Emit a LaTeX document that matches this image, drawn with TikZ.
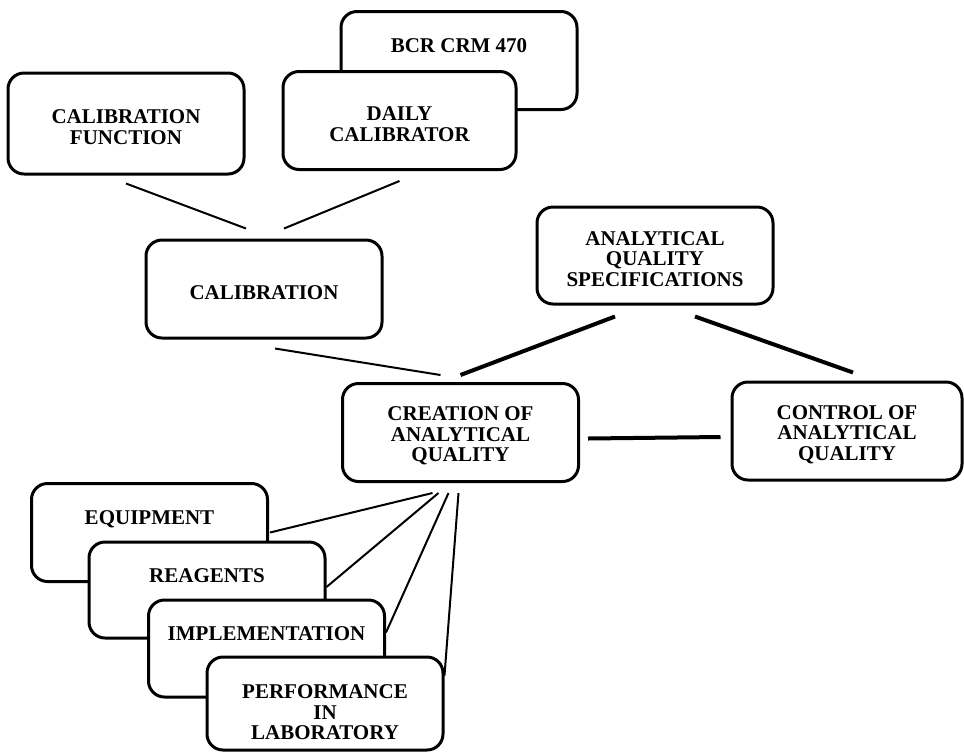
\documentclass[tikz,border=0pt]{standalone}
\usepackage{fontspec}
\setmainfont{Liberation Serif}
\begin{document}
\begin{tikzpicture}
  [x=0.5pt,y=-0.5pt,
 card/.style={
  rectangle,
 rounded corners=8pt,
  line width=1.5pt, % border
 draw=black,
 fill=white,
  align=center,
  minimum width=118pt,
    minimum height=49pt,
 inner sep=0pt,
 execute at begin node={\rule{0pt}{10.5pt}},
 font=\fontsize{10.5pt}{10.2pt}\selectfont\bfseries},
 toptext/.style={text height=7pt, text depth=15pt},
 lines2/.style={text height=20.6pt},
 lines3/.style={text height=30.8pt},
 link/.style={line width=1pt},
 thicklink/.style={line width=2pt}]
\useasboundingbox (0,0) rectangle (964,751);
\node (bcr) [card,toptext] at (459,60.5) {BCR CRM 470};
\node (daily) [card,lines2,minimum width=116.5pt] at (399.5,120.5) {DAILY\\CALIBRATOR};
\node (calfunc) [card,lines2,minimum height=50.5pt] at (126,123.5) {CALIBRATION\\FUNCTION};
\node (calib) [card] at (264,289) {CALIBRATION};
\node (spec) [card,lines3,minimum height=48.5pt] at (655,255.5) {ANALYTICAL\\QUALITY\\SPECIFICATIONS};
\node (creation) [card,lines3] at (460.5,432.5) {CREATION OF\\ANALYTICAL\\QUALITY};
\node (control) [card,lines3,minimum width=115pt] at (847,431) {CONTROL OF\\ANALYTICAL\\QUALITY};
\node (equip) [card,toptext] at (149.5,532.5) {EQUIPMENT};
\node (reag) [card,toptext,minimum height=48pt] at (207,590) {REAGENTS};
\node (impl) [card,toptext,minimum height=48.5pt] at (266.5,648.5) {IMPLEMENTATION};
\node (perf) [card,text height=36pt,minimum height=46.5pt] at (325,703.5) {PERFORMANCE\\IN\\LABORATORY};
\path ([yshift=-4pt]calfunc.south) edge[link] ([xshift=-9pt,yshift=5pt]calib.north);
\path ([yshift=-5pt]daily.south) edge[link] ([xshift=10pt,yshift=5pt]calib.north);
\path ([xshift=5.5pt,yshift=-4.5pt]calib.south) edge[link] ([xshift=-10pt,yshift=3.5pt]creation.north);
\path ([xshift=-20pt,yshift=-5.5pt]spec.south) edge[thicklink] ([yshift=3.5pt]creation.north);
\path ([xshift=20pt,yshift=-5.5pt]spec.south) edge[thicklink] ([xshift=3pt,yshift=4pt]control.north);
\path ([xshift=4pt,yshift=-3pt]creation.east) edge[thicklink] ([xshift=-5pt,yshift=-3pt]control.west);
\path ([xshift=-14pt,yshift=-5pt]creation.south) edge[link] ([xshift=0.5pt]equip.east);
\path ([xshift=-11pt,yshift=-5pt]creation.south) edge[link] ([yshift=1.5pt]reag.east);
\path ([xshift=-6pt,yshift=-5pt]creation.south) edge[link] ([yshift=8pt]impl.east);
\path ([xshift=-1pt,yshift=-5pt]creation.south) edge[link] ([yshift=14pt]perf.east);
\end{tikzpicture}
\end{document}
